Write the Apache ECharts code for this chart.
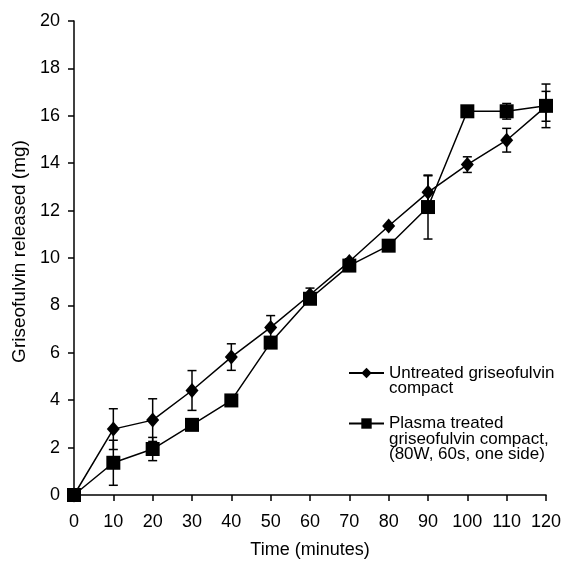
<!DOCTYPE html>
<html>
<head>
<meta charset="utf-8">
<script src="https://cdn.jsdelivr.net/npm/echarts@6/dist/echarts.min.js"></script>
<style>
  html, body { margin: 0; padding: 0; background: #fff; }
  #chart { width: 567px; height: 562px; }
</style>
</head>
<body>
<div id="chart"></div>
<script>
// time points (minutes)
var time = [0, 10, 20, 30, 40, 50, 60, 70, 80, 90, 100, 110, 120];
// untreated compact (diamonds)
var untreated = [0, 2.78, 3.16, 4.41, 5.82, 7.07, 8.45, 9.85, 11.35, 12.77, 13.94, 14.97, 16.4];
var untreatedErr = [0, 0.86, 0.9, 0.84, 0.56, 0.5, 0.28, 0.12, 0, 0.7, 0.33, 0.5, 0.63];
// plasma treated compact (squares)
var plasma = [0, 1.36, 1.94, 2.96, 3.99, 6.43, 8.28, 9.68, 10.52, 12.15, 16.19, 16.19, 16.42];
var plasmaErr = [0, 0.95, 0.49, 0.2, 0, 0, 0, 0, 0, 1.35, 0, 0.33, 0.92];

var nameA = 'Untreated griseofulvin\ncompact';
var nameB = 'Plasma treated\ngriseofulvin compact,\n(80W, 60s, one side)';

var font = 'Liberation Sans, Arial, sans-serif';

function pairs(ys) {
    return time.map(function (t, i) { return [t, ys[i]]; });
}
function errRows(ys, es) {
    var rows = [];
    for (var i = 0; i < time.length; i++) {
        if (es[i] > 0) rows.push([time[i], ys[i] - es[i], ys[i] + es[i]]);
    }
    return rows;
}

// vertical error bar with caps
function renderErr(params, api) {
    var lo = api.coord([api.value(0), api.value(1)]);
    var hi = api.coord([api.value(0), api.value(2)]);
    var w = 4.5;
    var st = { stroke: '#000', lineWidth: 1.5 };
    return {
        type: 'group',
        children: [
            { type: 'line', shape: { x1: lo[0], y1: lo[1], x2: hi[0], y2: hi[1] }, style: st },
            { type: 'line', shape: { x1: lo[0] - w, y1: lo[1], x2: lo[0] + w, y2: lo[1] }, style: st },
            { type: 'line', shape: { x1: hi[0] - w, y1: hi[1], x2: hi[0] + w, y2: hi[1] }, style: st }
        ]
    };
}

var myChart = echarts.init(document.getElementById('chart'));

var legendBase = {
    orient: 'vertical',
    left: 348,
    padding: 0,
    itemWidth: 35,
    itemHeight: 13,
    textStyle: { fontFamily: font, fontSize: 17, color: '#000', lineHeight: 15.5 }
};

var option = {
    animation: false,
    backgroundColor: '#fff',
    grid: { left: 74, right: 21, top: 21, bottom: 67, outerBoundsMode: 'none', containLabel: false },
    legend: [
        Object.assign({}, legendBase, {
            top: 349,
            data: [nameA],
            formatter: function (n) { return '\n' + n; }
        }),
        Object.assign({}, legendBase, {
            top: 384,
            data: [nameB],
            formatter: function (n) { return '\n\n' + n; }
        })
    ],
    xAxis: {
        type: 'value',
        min: 0,
        max: 120,
        interval: 10,
        name: 'Time (minutes)',
        nameLocation: 'middle',
        nameGap: 46,
        nameTextStyle: { fontFamily: font, fontSize: 18, color: '#000' },
        splitLine: { show: false },
        axisLine: { lineStyle: { color: '#000', width: 1.5 } },
        axisTick: { length: 6, lineStyle: { color: '#000', width: 1.5 } },
        axisLabel: { margin: 18, fontFamily: font, fontSize: 18, color: '#000' }
    },
    yAxis: {
        type: 'value',
        min: 0,
        max: 20,
        interval: 2,
        name: 'Griseofulvin released (mg)',
        nameLocation: 'middle',
        nameGap: 44,
        nameTextStyle: { fontFamily: font, fontSize: 19, color: '#000', padding: [0, 0, 0, 13] },
        splitLine: { show: false },
        axisLine: { show: true, lineStyle: { color: '#000', width: 1.5 } },
        axisTick: { show: true, length: 6, lineStyle: { color: '#000', width: 1.5 } },
        axisLabel: { margin: 14, fontFamily: font, fontSize: 18, color: '#000' }
    },
    series: [
        {
            type: 'custom',
            z: 1,
            silent: true,
            renderItem: renderErr,
            data: errRows(untreated, untreatedErr)
        },
        {
            type: 'custom',
            z: 1,
            silent: true,
            renderItem: renderErr,
            data: errRows(plasma, plasmaErr)
        },
        {
            name: nameA,
            type: 'line',
            z: 2,
            symbol: 'diamond',
            symbolSize: [13, 15],
            showAllSymbol: true,
            lineStyle: { color: '#000', width: 1.5 },
            itemStyle: { color: '#000' },
            data: pairs(untreated)
        },
        {
            name: nameB,
            type: 'line',
            z: 3,
            symbol: 'rect',
            symbolSize: 14,
            showAllSymbol: true,
            lineStyle: { color: '#000', width: 1.5 },
            itemStyle: { color: '#000' },
            data: pairs(plasma)
        }
    ]
};

myChart.setOption(option);
</script>
</body>
</html>
